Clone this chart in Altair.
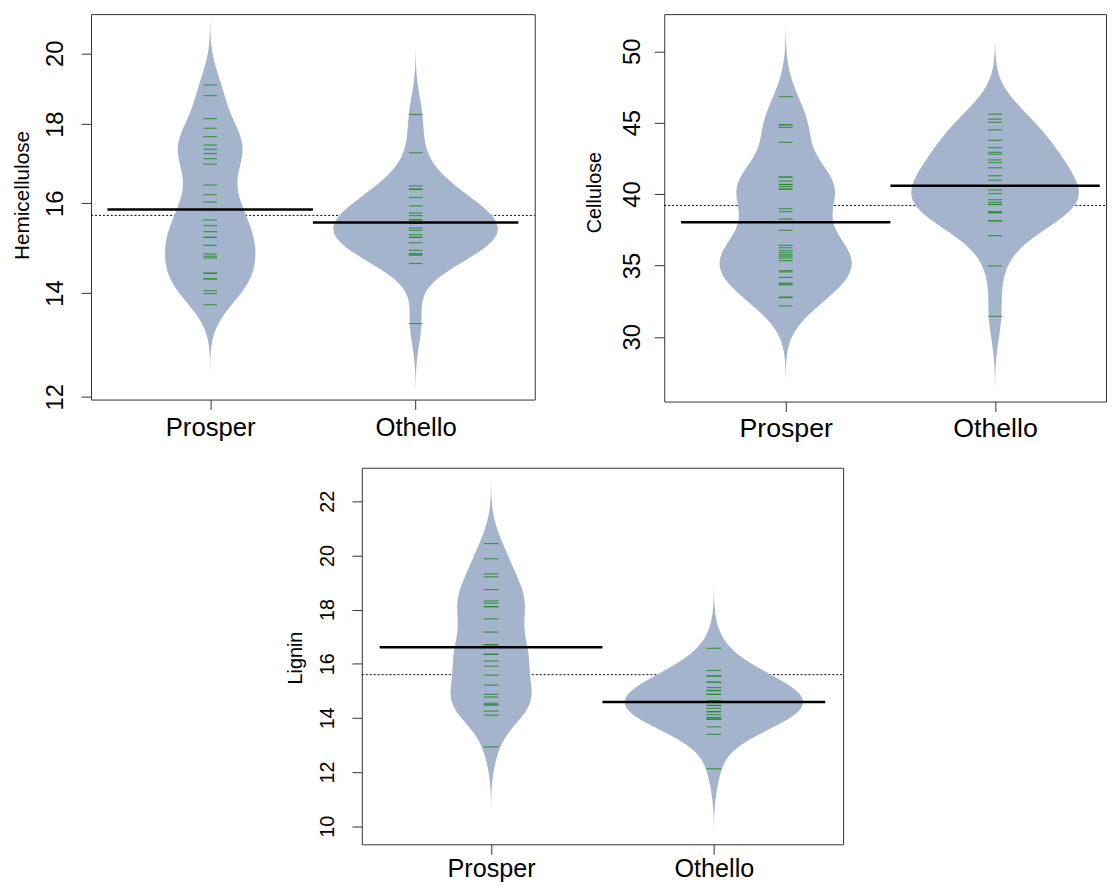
import numpy as np
import pandas as pd
import altair as alt

groups = ["Prosper", "Othello"]

hemi_prosper = [19.08, 18.78, 18.15, 17.89, 17.67, 17.45, 17.34, 17.23, 17.10, 16.96,
                16.44, 16.21, 16.03, 15.86, 15.61, 15.48, 15.34, 15.21, 15.21, 15.03,
                14.84, 14.79, 14.75, 14.42, 14.42, 14.30, 14.30, 14.05, 13.99, 13.76]
hemi_othello = [18.26, 17.25, 16.42, 16.34, 16.34, 16.14, 15.94, 15.77, 15.71, 15.61, 15.61,
                15.53, 15.53, 15.42, 15.37, 15.27, 15.21, 15.21, 15.09, 14.92, 14.84, 14.84,
                14.81, 14.63, 13.38]
cell_prosper = [46.82, 44.85, 44.85, 44.67, 43.62, 41.19, 41.19, 40.91, 40.67, 40.67, 40.53,
                40.35, 40.35, 38.97, 38.77, 38.25, 37.46, 36.41, 36.24, 36.03, 35.89, 35.75,
                35.65, 35.52, 35.34, 34.64, 34.55, 34.16, 33.76, 33.71, 33.64, 32.79, 32.75, 32.17]
cell_othello = [45.59, 45.25, 45.02, 44.50, 43.76, 43.25, 42.92, 42.79, 42.39, 42.20, 41.84,
                41.28, 40.97, 40.59, 40.59, 40.29, 40.03, 39.60, 39.42, 39.27, 39.27, 38.77,
                38.70, 38.70, 38.13, 38.13, 37.09, 34.97, 31.44]
lig_prosper = [20.44, 19.88, 19.32, 19.21, 18.74, 18.32, 18.24, 18.11, 18.11, 17.66, 17.17,
               16.70, 16.70, 16.35, 16.35, 16.10, 15.91, 15.58, 15.21, 14.87, 14.77, 14.54,
               14.48, 14.48, 14.25, 14.10, 12.93]
lig_othello = [16.57, 15.75, 15.55, 15.55, 15.32, 15.32, 15.12, 15.01, 15.01, 14.87, 14.87,
               14.62, 14.62, 14.62, 14.46, 14.46, 14.35, 14.23, 14.23, 14.12, 14.01, 14.01,
               13.95, 13.95, 13.67, 13.39, 12.12]

hemi_ticks = [12, 14, 16, 18, 20]
cell_ticks = [30, 35, 40, 45, 50]
lig_ticks = [10, 12, 14, 16, 18, 20, 22]

BEAN = "#a3b4cc"
LINEGREEN = "#1f8a1f"
FONT = "Liberation Sans"


def bean_density(samples, bw, log):
    dens = []
    for gi, vals in enumerate(samples, start=1):
        t = np.log(np.asarray(vals, float)) if log else np.asarray(vals, float)
        grid = np.linspace(t.min() - 3 * bw, t.max() + 3 * bw, 300)
        d = np.exp(-0.5 * ((grid[:, None] - t[None, :]) / bw) ** 2).sum(1) / (len(t) * bw * np.sqrt(2 * np.pi))
        dens.append((gi, grid, d))
    dmax = max(d.max() for _, _, d in dens)
    rows = []
    for gi, grid, d in dens:
        half = d / dmax * 0.4
        ys = np.exp(grid) if log else grid
        for yy, hh in zip(ys, half):
            rows.append({"gi": gi, "y": float(yy), "xl": gi - float(hh), "xr": gi + float(hh)})
    return pd.DataFrame(rows)


def panel(samples, title, bw, log, ydomain, yticks, width, height, xdomain,
          ylab_fs, xlab_fs, title_fs, ylab_pad, xlab_pad, title_x, title_y):
    pts = pd.DataFrame({
        "gi": [gi for gi, vals in enumerate(samples, start=1) for _ in vals],
        "value": [v for vals in samples for v in vals],
    })
    dens = bean_density(samples, bw, log)
    yscale = alt.Scale(type="log" if log else "linear", domain=ydomain, nice=False, zero=False)
    xscale = alt.Scale(domain=xdomain, nice=False, zero=False)
    yaxis = alt.Axis(values=yticks, format="d", title=title, grid=False, domain=False,
                     tickSize=10, tickColor="#333333", tickWidth=1,
                     labelAngle=270, labelAlign="center", labelBaseline="alphabetic",
                     labelFontSize=ylab_fs, labelPadding=ylab_pad, labelColor="black",
                     labelFlush=False, labelOverlap=False,
                     titleAngle=270, titleAlign="center", titleBaseline="alphabetic",
                     titleFontSize=title_fs, titleFontWeight="normal", titleColor="black",
                     titleX=title_x, titleY=title_y)
    xaxis = alt.Axis(values=[1, 2], labelExpr="datum.value == 1 ? '" + groups[0] + "' : '" + groups[1] + "'",
                     title=None, grid=False, domain=False, tickSize=10, tickColor="#333333",
                     labelFontSize=xlab_fs, labelPadding=xlab_pad, labelBaseline="alphabetic",
                     labelColor="black", labelFlush=False, labelOverlap=False)
    tcalc = "log(datum.value)" if log else "datum.value"
    back = "exp(datum.m)" if log else "datum.m"

    overall = alt.Chart(pts).transform_calculate(t=tcalc).transform_aggregate(
        m="mean(t)").transform_calculate(mv=back).mark_rule(
        color="black", strokeWidth=1, strokeDash=[2, 2]).encode(
        y=alt.Y("mv:Q", scale=yscale, axis=yaxis),
        x=alt.value(0), x2=alt.value(width))

    beans = alt.Chart(dens).mark_area(orient="horizontal", color=BEAN, opacity=1).encode(
        y=alt.Y("y:Q", scale=yscale, axis=yaxis),
        x=alt.X("xl:Q", scale=xscale, axis=xaxis),
        x2="xr:Q",
        detail="gi:N")

    lines = alt.Chart(pts).transform_calculate(
        x1="datum.gi - 0.033", x2="datum.gi + 0.033").mark_rule(
        color=LINEGREEN, opacity=0.75, strokeWidth=1.2).encode(
        y=alt.Y("value:Q", scale=yscale, axis=yaxis),
        x=alt.X("x1:Q", scale=xscale, axis=xaxis),
        x2="x2:Q")

    means = alt.Chart(pts).transform_calculate(t=tcalc).transform_aggregate(
        m="mean(t)", groupby=["gi"]).transform_calculate(
        mv=back, x1="datum.gi - 0.5", x2="datum.gi + 0.5").mark_rule(
        color="black", strokeWidth=2.5).encode(
        y=alt.Y("mv:Q", scale=yscale, axis=yaxis),
        x=alt.X("x1:Q", scale=xscale, axis=xaxis),
        x2="x2:Q")

    return alt.layer(overall, beans, lines, means).properties(width=width, height=height)


p1 = panel([hemi_prosper, hemi_othello], "Hemicellulose", 0.0324, True,
           [11.95, 21.2], hemi_ticks, 449, 390, [0.42, 2.58],
           24, 26, 21, 19, 26, -63, 183)
p2 = panel([cell_prosper, cell_othello], "Cellulose", 1.68, False,
           [25.47, 52.6], cell_ticks, 447, 392, [0.42, 2.53],
           24, 27, 20, 15, 25, -64, 180)
p3 = panel([lig_prosper, lig_othello], "Lignin", 0.77, False,
           [9.33, 23.24], lig_ticks, 487, 381, [0.42, 2.58],
           20, 25.5, 20, 19, 23, -61, 192)

spacer = alt.Chart(pd.DataFrame({"a": [0]})).mark_point(opacity=0).encode(
    x=alt.X("a:Q", axis=None), y=alt.Y("a:Q", axis=None)).properties(
    width=195, height=10, view=alt.ViewBackground(stroke="transparent"))

top = alt.hconcat(p1, p2, spacing=49)
bottom = alt.hconcat(spacer, p3, spacing=0)

chart = alt.vconcat(top, bottom, spacing=25).properties(
    padding={"left": 3, "top": 0, "right": 0, "bottom": 0}
).configure(font=FONT).configure_view(stroke="#333333", strokeWidth=1)

chart.save("out.html", embed_options={"renderer": "svg", "actions": False})
